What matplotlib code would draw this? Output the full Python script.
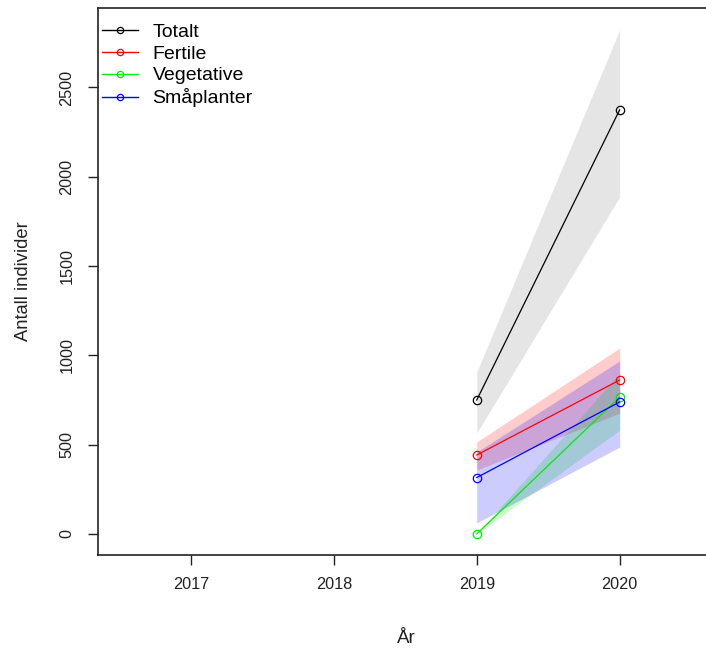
import matplotlib
matplotlib.use("Agg")
import matplotlib.pyplot as plt
from matplotlib.lines import Line2D

plt.rcParams['font.family'] = ['Liberation Sans', 'DejaVu Sans']

years = [2019, 2020]
xticks = [2017, 2018, 2019, 2020]
yticks = [0, 500, 1000, 1500, 2000, 2500]

series_names = ["Totalt", "Fertile", "Vegetative", "Småplanter"]
series_colors = ["black", "red", "#00ee00", "blue"]
band_alpha = [0.1, 0.2, 0.2, 0.2]

totalt = [750, 2375]
totalt_lo = [565, 1887]
totalt_hi = [907, 2822]

fertile = [442, 862]
fertile_lo = [358, 677]
fertile_hi = [515, 1041]

vegetative = [0, 767]
vegetative_lo = [0, 582]
vegetative_hi = [0, 900]

smaplanter = [316, 739]
smaplanter_lo = [62, 487]
smaplanter_hi = [459, 969]

values = [totalt, fertile, vegetative, smaplanter]
lows = [totalt_lo, fertile_lo, vegetative_lo, smaplanter_lo]
highs = [totalt_hi, fertile_hi, vegetative_hi, smaplanter_hi]

ink = "#222222"

fig = plt.figure(figsize=(7.06, 6.5), dpi=100)
ax = fig.add_axes([98 / 706, 95 / 650, (714 - 98) / 706, (555 - 8) / 650])

# confidence bands
for lo, hi, col, a in zip(lows, highs, series_colors, band_alpha):
    ax.fill_between(years, lo, hi, color=col, alpha=a, linewidth=0)

# estimates
for val, col in zip(values, series_colors):
    ax.plot(years, val, color=col, linewidth=0.9, marker="o", markersize=6,
            markerfacecolor="none", markeredgewidth=0.9)

ax.set_xlim(2016.35, 2020.66)
ax.set_ylim(-117.6, 2945)
ax.set_xticks(xticks)
ax.set_xticklabels([str(t) for t in xticks])
ax.set_yticks(yticks)
ax.set_yticklabels([str(t) for t in yticks], rotation=90, va="center")
ax.tick_params(axis="both", direction="out", length=7, width=1, labelsize=11.7,
               color=ink, labelcolor=ink)
ax.tick_params(axis="x", pad=9)
ax.tick_params(axis="y", pad=10)
for s in ax.spines.values():
    s.set_linewidth(1.2)
    s.set_color(ink)

ax.set_xlabel("År", fontsize=13.5, color=ink, labelpad=27)
ax.set_ylabel("Antall individer", fontsize=13.2, color=ink, labelpad=20)

handles = [Line2D([0], [0], color=c, linewidth=1.0, marker="o", markersize=4.5,
                  markerfacecolor="none", markeredgewidth=0.9)
           for c in series_colors]
ax.legend(handles, series_names, loc="upper left", frameon=False,
          bbox_to_anchor=(0.0065, 0.972), fontsize=14, handlelength=1.85,
          handletextpad=0.75, labelspacing=0.21, borderaxespad=0, borderpad=0)

fig.savefig("out.png", dpi=100)
